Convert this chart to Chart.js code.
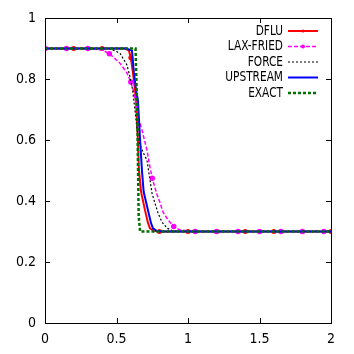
<!DOCTYPE html>
<html>
<head>
<meta charset="utf-8">
<script src="https://cdn.jsdelivr.net/npm/chart.js@4.4.0/dist/chart.umd.min.js"></script>
<style>
  html, body { margin: 0; padding: 0; background: #fff; }
  #wrap { width: 354px; height: 354px; }
</style>
</head>
<body>
<div id="wrap"><canvas id="mycanvas" width="354" height="354"></canvas></div>
<script>
// values
var dfluX = [0, 0.2, 0.4, 0.56, 0.587, 0.6, 0.615, 0.628, 0.636, 0.648, 0.657, 0.672, 0.699, 0.72, 0.734, 0.76, 0.8, 1.0, 1.2, 1.4, 1.6, 1.8, 2.0];
var dfluY = [0.9, 0.9, 0.9, 0.9, 0.893, 0.87, 0.82, 0.77, 0.73, 0.62, 0.5, 0.43, 0.37, 0.328, 0.31, 0.302, 0.3, 0.3, 0.3, 0.3, 0.3, 0.3, 0.3];

var laxX = [0, 0.15, 0.3, 0.4, 0.45, 0.524, 0.573, 0.6, 0.62, 0.636, 0.652, 0.678, 0.713, 0.734, 0.75, 0.78, 0.804, 0.825, 0.86, 0.9, 0.944, 1.05, 1.2, 1.35, 1.5, 1.65, 1.8, 1.95, 2.0];
var laxY = [0.9, 0.9, 0.9, 0.895, 0.883, 0.852, 0.82, 0.79, 0.76, 0.72, 0.675, 0.633, 0.567, 0.511, 0.475, 0.425, 0.395, 0.364, 0.338, 0.316, 0.305, 0.3, 0.3, 0.3, 0.3, 0.3, 0.3, 0.3, 0.3];

var forceX = [0, 0.45, 0.524, 0.573, 0.594, 0.613, 0.629, 0.652, 0.685, 0.713, 0.748, 0.769, 0.79, 0.818, 0.853, 0.895, 0.944, 2.0];
var forceY = [0.9, 0.9, 0.885, 0.846, 0.807, 0.764, 0.698, 0.6, 0.56, 0.534, 0.426, 0.393, 0.361, 0.331, 0.311, 0.302, 0.3, 0.3];

var upX = [0, 0.57, 0.608, 0.622, 0.638, 0.65, 0.665, 0.678, 0.69, 0.72, 0.741, 0.755, 0.78, 0.82, 2.0];
var upY = [0.9, 0.9, 0.893, 0.82, 0.76, 0.73, 0.6, 0.5, 0.43, 0.37, 0.328, 0.31, 0.302, 0.3, 0.3];

var exactX = [0, 0.633, 0.645, 0.655, 0.665, 2.0];
var exactY = [0.9, 0.9, 0.7, 0.35, 0.3, 0.3];

var xTicks = [0, 0.5, 1, 1.5, 2];
var yTicks = [0, 0.2, 0.4, 0.6, 0.8, 1];

function pts(xs, ys) {
  var out = [];
  for (var i in xs) out.push({x: xs[i], y: ys[i]});
  return out;
}

function markEvery(step, r) {
  return function(ctx) {
    if (!ctx.raw) return 0;
    var k = ctx.raw.x / step;
    return Math.abs(k - Math.round(k)) < 1e-6 ? r : 0;
  };
}

var FONT = '"Liberation Sans Narrow", "DejaVu Sans Condensed", "Liberation Sans", sans-serif';

// box with inward ticks on all four sides, gnuplot style
var framePlugin = {
  id: 'frame',
  afterDatasetsDraw: function(chart) {
    var c = chart.ctx, a = chart.chartArea;
    var xs = chart.scales.x, ys = chart.scales.y;
    c.save();
    c.strokeStyle = '#000';
    c.lineWidth = 1;
    c.beginPath();
    xTicks.forEach(function(v) {
      var px = Math.round(xs.getPixelForValue(v)) + 0.5;
      c.moveTo(px, a.bottom); c.lineTo(px, a.bottom - 5);
      c.moveTo(px, a.top); c.lineTo(px, a.top + 5);
    });
    yTicks.forEach(function(v) {
      var py = Math.round(ys.getPixelForValue(v)) + 0.5;
      c.moveTo(a.left, py); c.lineTo(a.left + 5, py);
      c.moveTo(a.right, py); c.lineTo(a.right - 5, py);
    });
    c.stroke();
    c.strokeRect(Math.round(a.left) + 0.5, Math.round(a.top) + 0.5,
                 Math.round(a.right - a.left), Math.round(a.bottom - a.top));
    c.restore();
  },
  afterDraw: function(chart) {
    // key, top right, text right-aligned with sample after it
    var c = chart.ctx, a = chart.chartArea;
    var ds = chart.data.datasets;
    var sx = 0.84;
    c.save();
    c.font = '14px ' + FONT;
    c.textBaseline = 'middle';
    var y0 = a.top + 13;
    for (var i = 0; i < ds.length; i++) {
      var y = y0 + i * 15.5;
      c.save();
      c.scale(sx, 1);
      c.textAlign = 'right';
      c.fillStyle = '#000';
      c.fillText(ds[i].label, (a.right - 48) / sx, y);
      c.restore();
      c.strokeStyle = ds[i].borderColor;
      c.lineWidth = ds[i].borderWidth;
      c.setLineDash(ds[i].borderDash || []);
      c.beginPath();
      c.moveTo(a.right - 43, y);
      c.lineTo(a.right - 13, y);
      c.stroke();
      c.setLineDash([]);
      if (ds[i].keyMark) {
        c.fillStyle = ds[i].borderColor;
        c.beginPath();
        c.arc(a.right - 28, y, ds[i].keyMark, 0, Math.PI * 2);
        c.fill();
      }
    }
    c.restore();
  }
};

var chartdata = {
  datasets: [
    {
      label: 'DFLU',
      data: pts(dfluX, dfluY),
      borderColor: '#ff0000',
      backgroundColor: '#ff0000',
      borderWidth: 2,
      pointRadius: markEvery(0.2, 1.5),
      keyMark: 1.5,
      order: 5
    }, {
      label: 'LAX-FRIED',
      data: pts(laxX, laxY),
      borderColor: '#ff00ff',
      backgroundColor: '#ff00ff',
      borderWidth: 1.5,
      borderDash: [4, 2],
      pointRadius: markEvery(0.15, 2),
      keyMark: 2,
      order: 4
    }, {
      label: 'FORCE',
      data: pts(forceX, forceY),
      borderColor: '#000000',
      borderWidth: 1.2,
      borderDash: [2, 2],
      pointRadius: 0,
      order: 3
    }, {
      label: 'UPSTREAM',
      data: pts(upX, upY),
      borderColor: '#0000ff',
      borderWidth: 2,
      pointRadius: 0,
      order: 2
    }, {
      label: 'EXACT',
      data: pts(exactX, exactY),
      borderColor: '#007000',
      borderWidth: 2.5,
      borderDash: [3, 2],
      pointRadius: 0,
      order: 1
    }
  ]
};

var ctx = document.getElementById('mycanvas');

var lineGraph = new Chart(ctx, {
  type: 'line',
  data: chartdata,
  plugins: [framePlugin],
  options: {
    responsive: false,
    animation: false,
    devicePixelRatio: 1,
    layout: { padding: { left: 0, right: 23, top: 18, bottom: 0 } },
    plugins: { legend: { display: false }, tooltip: { enabled: false } },
    elements: { line: { tension: 0 }, point: { borderWidth: 0, hoverRadius: 0 } },
    scales: {
      x: {
        type: 'linear',
        min: 0, max: 2,
        afterFit: function(s) { s.height = 31; },
        afterBuildTicks: function(s) { s.ticks = xTicks.map(function(v) { return {value: v}; }); },
        grid: { display: false, drawTicks: false },
        border: { display: false },
        ticks: {
          color: '#000', padding: 8, maxRotation: 0,
          font: { family: FONT, size: 14 },
          callback: function(v) { return String(v); }
        }
      },
      y: {
        type: 'linear',
        min: 0, max: 1,
        afterFit: function(s) { s.width = 45; },
        afterBuildTicks: function(s) { s.ticks = yTicks.map(function(v) { return {value: v}; }); },
        grid: { display: false, drawTicks: false },
        border: { display: false },
        ticks: {
          color: '#000', padding: 9,
          font: { family: FONT, size: 14 },
          callback: function(v) { return String(v); }
        }
      }
    }
  }
});
</script>
</body>
</html>
